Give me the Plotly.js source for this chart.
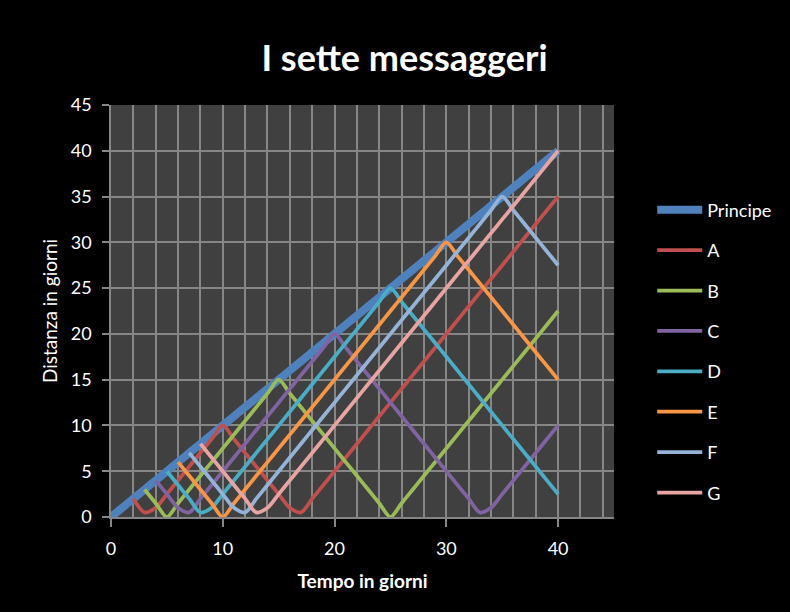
<!DOCTYPE html>
<html>
<head>
<meta charset="utf-8">
<script src="https://cdn.plot.ly/plotly-3.0.1.min.js"></script>
<style>html,body{margin:0;padding:0;background:#000;}#chart{width:790px;height:612px;}</style>
</head>
<body>
<div id="chart"></div>
<script>
var days = [0,1,2,3,4,5,6,7,8,9,10,11,12,13,14,15,16,17,18,19,20,21,22,23,24,25,26,27,28,29,30,31,32,33,34,35,36,37,38,39,40];
var seriesNames = ["Principe","A","B","C","D","E","F","G"];
var principe = [0,1,2,3,4,5,6,7,8,9,10,11,12,13,14,15,16,17,18,19,20,21,22,23,24,25,26,27,28,29,30,31,32,33,34,35,36,37,38,39,40];
var serieA = [null,null,2,0.5,1,2.5,4,5.5,7,8.5,10,8.5,7,5.5,4,2.5,1,0.5,2,3.5,5,6.5,8,9.5,11,12.5,14,15.5,17,18.5,20,21.5,23,24.5,26,27.5,29,30.5,32,33.5,35];
var serieB = [null,null,null,3,1.5,0,1.5,3,4.5,6,7.5,9,10.5,12,13.5,15,13.5,12,10.5,9,7.5,6,4.5,3,1.5,0,1.5,3,4.5,6,7.5,9,10.5,12,13.5,15,16.5,18,19.5,21,22.5];
var serieC = [null,null,null,null,4,2.5,1,0.5,2,3.5,5,6.5,8,9.5,11,12.5,14,15.5,17,18.5,20,18.5,17,15.5,14,12.5,11,9.5,8,6.5,5,3.5,2,0.5,1,2.5,4,5.5,7,8.5,10];
var serieD = [null,null,null,null,null,5,3.5,2,0.5,1,2.5,4,5.5,7,8.5,10,11.5,13,14.5,16,17.5,19,20.5,22,23.5,25,23.5,22,20.5,19,17.5,16,14.5,13,11.5,10,8.5,7,5.5,4,2.5];
var serieE = [null,null,null,null,null,null,6,4.5,3,1.5,0,1.5,3,4.5,6,7.5,9,10.5,12,13.5,15,16.5,18,19.5,21,22.5,24,25.5,27,28.5,30,28.5,27,25.5,24,22.5,21,19.5,18,16.5,15];
var serieF = [null,null,null,null,null,null,null,7,5.5,4,2.5,1,0.5,2,3.5,5,6.5,8,9.5,11,12.5,14,15.5,17,18.5,20,21.5,23,24.5,26,27.5,29,30.5,32,33.5,35,33.5,32,30.5,29,27.5];
var serieG = [null,null,null,null,null,null,null,null,8,6.5,5,3.5,2,0.5,1,2.5,4,5.5,7,8.5,10,11.5,13,14.5,16,17.5,19,20.5,22,23.5,25,26.5,28,29.5,31,32.5,34,35.5,37,38.5,40];
var xTickVals = [0,10,20,30,40];
var yTickVals = [0,5,10,15,20,25,30,35,40,45];

var values = [principe, serieA, serieB, serieC, serieD, serieE, serieF, serieG];
var colors = ["#4F81BD","#C0504D","#9BBB59","#8064A2","#4BACC6","#F79646","#95B3D7","#E6A5A3"];
var widths = [8,3.75,3.75,3.75,3.75,3.75,3.75,3.75];

var traces = values.map(function(v,i){
  return {
    type:"scatter", mode:"lines", x:days, y:v, name:seriesNames[i],
    legendgroup:"g"+i,
    line:{color:colors[i], width:widths[i], shape:"spline", smoothing:0.8},
    hoverinfo:"x+y+name"
  };
});

var font = "Lato, 'Open Sans', sans-serif";
var layout = {
  width:790, height:612,
  paper_bgcolor:"#000000", plot_bgcolor:"#404040",
  margin:{l:111, r:176, t:105, b:95},
  font:{family:font, color:"#ffffff", size:17},
  title:{text:"<b>I sette messaggeri</b>", font:{family:font, size:36, color:"#ffffff"}, x:0.512, xanchor:"center", y:0.905, yanchor:"middle"},
  xaxis:{
    range:[0,45], tickvals:xTickVals, ticks:"outside", ticklen:8, tickcolor:"#868686", tickwidth:1.5,
    ticklabelstandoff:7,
    showgrid:true, gridcolor:"#868686", gridwidth:1.5,
    minor:{dtick:2, tick0:0, showgrid:true, gridcolor:"#868686", gridwidth:1.5, ticks:""},
    showline:true, linecolor:"#868686", linewidth:1.5, zeroline:false,
    tickfont:{size:18, color:"#ffffff"},
    title:{text:"<b>Tempo in giorni</b>", font:{size:19, color:"#ffffff"}, standoff:16}
  },
  yaxis:{
    range:[0,45], tickvals:yTickVals, ticks:"outside", ticklen:7, tickcolor:"#868686", tickwidth:1.5,
    ticklabelstandoff:7,
    showgrid:true, gridcolor:"#868686", gridwidth:1.5,
    showline:true, linecolor:"#868686", linewidth:1.5, zeroline:false,
    tickfont:{size:18, color:"#ffffff"},
    title:{text:"Distanza in giorni", font:{size:19, color:"#ffffff"}, standoff:8}
  },
  showlegend:true,
  legend:{x:1.076, xanchor:"left", y:0.79, yanchor:"top", bgcolor:"rgba(0,0,0,0)",
    font:{size:18, color:"#ffffff"}, tracegroupgap:14, itemwidth:45},
  hovermode:"closest"
};

Plotly.newPlot("chart", traces, layout, {displayModeBar:false});
</script>
</body>
</html>
